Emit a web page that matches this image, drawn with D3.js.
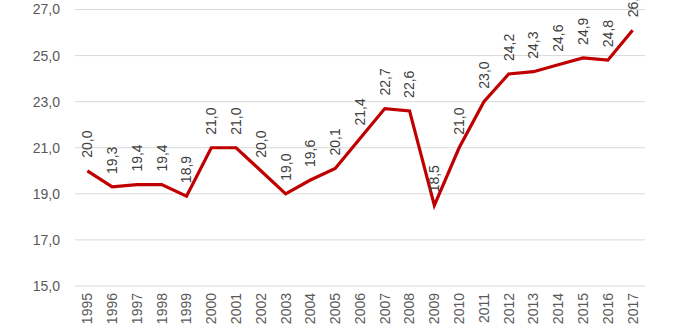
<!DOCTYPE html>
<html><head><meta charset="utf-8">
<script src="https://cdn.jsdelivr.net/npm/d3@7"></script>
<style>body{margin:0;background:#fff}svg{display:block}</style>
</head><body>
<svg id="c" width="700" height="324"></svg>
<script>
const years = ["1995","1996","1997","1998","1999","2000","2001","2002","2003","2004","2005","2006","2007","2008","2009","2010","2011","2012","2013","2014","2015","2016","2017"];
const values = [20.0,19.3,19.4,19.4,18.9,21.0,21.0,20.0,19.0,19.6,20.1,21.4,22.7,22.6,18.5,21.0,23.0,24.2,24.3,24.6,24.9,24.8,26.1];
const yTicks = [15,17,19,21,23,25,27];

(function () {
const svg = d3.select("#c");
const mLeft = 75, mRight = 645, mTop = 9.5, mBottom = 286;
const fmt = v => d3.format(".1f")(v).replace(".", ",");
const x = d3.scaleBand().domain(years).range([mLeft, mRight]);
const y = d3.scaleLinear().domain([15, 27]).range([mBottom, mTop]);
const font = "'Liberation Sans Narrow', 'Arial Narrow', 'Liberation Sans', Arial, sans-serif";
const fs = 14;

// grid
svg.append("g").selectAll("line").data(yTicks).join("line")
  .attr("x1", mLeft).attr("x2", mRight)
  .attr("y1", d => y(d)).attr("y2", d => y(d))
  .attr("stroke", "#d9d9d9").attr("stroke-width", 1);

// y axis labels
const yAxis = d3.axisLeft(y).tickValues(yTicks).tickFormat(fmt).tickSize(0).tickPadding(0);
const gy = svg.append("g").attr("transform", `translate(${mLeft - 15},0)`).call(yAxis);
gy.select(".domain").remove();
gy.selectAll("text").attr("font-family", font).attr("font-size", fs).attr("fill", "#595959");

// x axis labels
const xAxis = d3.axisBottom(x).tickSize(0).tickPadding(0);
const gx = svg.append("g").attr("transform", `translate(0,${mBottom})`).call(xAxis);
gx.select(".domain").remove();
gx.selectAll("text")
  .attr("font-family", font).attr("font-size", fs).attr("fill", "#595959")
  .attr("transform", "rotate(-90)")
  .attr("text-anchor", "end")
  .attr("x", -7).attr("y", 0).attr("dy", "0.35em");

// line
const cx = d => x(d) + x.bandwidth() / 2;
const line = d3.line().x((d, i) => cx(years[i])).y(d => y(d));
svg.append("path").datum(values)
  .attr("d", line)
  .attr("fill", "none").attr("stroke", "#C00000").attr("stroke-width", 3.2)
  .attr("stroke-linejoin", "miter");

// value labels
svg.append("g").selectAll("text").data(values).join("text")
  .attr("transform", (d, i) => `translate(${cx(years[i])},${y(d) - 13}) rotate(-90)`)
  .attr("dy", "0.35em")
  .attr("text-anchor", "start")
  .attr("font-family", font).attr("font-size", fs).attr("fill", "#404040")
  .text(fmt);
})();
</script>
</body></html>
